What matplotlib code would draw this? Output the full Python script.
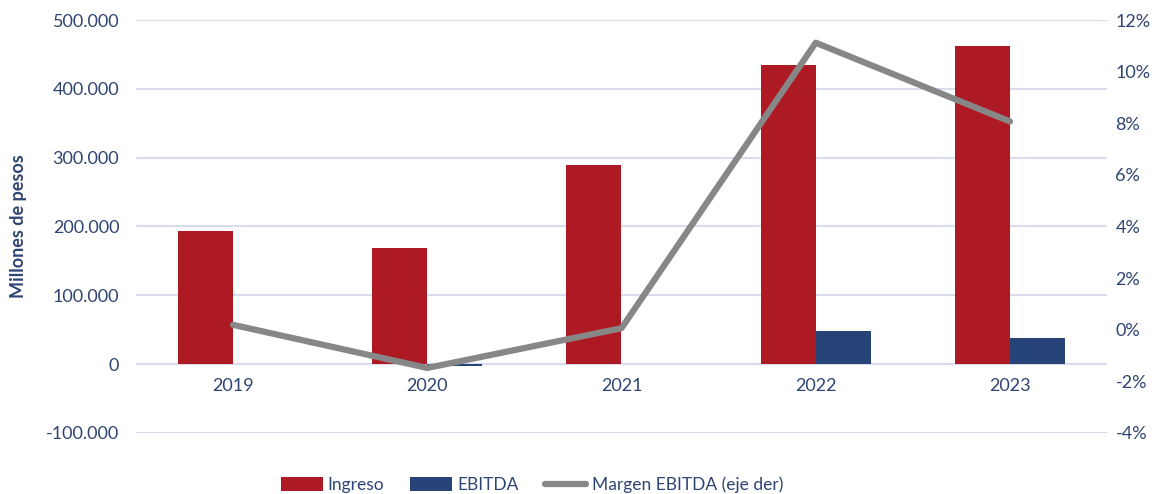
import matplotlib.pyplot as plt
import numpy as np
from matplotlib.ticker import FuncFormatter

# Data
years = ["2019", "2020", "2021", "2022", "2023"]
ingreso = [193000, 168500, 289000, 434500, 462000]
ebitda = [400, -2500, 100, 48000, 37500]
margen = [0.19, -1.48, 0.06, 11.12, 8.07]  # percent, right axis

RED = "#AD1A24"
BLUE = "#264478"
GRAY = "#878787"
TEXT = "#2E4472"
GRID = "#D9DCEC"

plt.rcParams["font.family"] = ["Lato", "DejaVu Sans"]

fig = plt.figure(figsize=(11.69, 4.94), dpi=100)
ax = fig.add_axes([0.1163, 0.1235, 0.8307, 0.836])
ax2 = ax.twinx()

x = np.arange(len(years))
w = 0.284  # bar width
ax.bar(x - w / 2, ingreso, w, color=RED, label="Ingreso", zorder=2)
ax.bar(x + w / 2, ebitda, w, color=BLUE, label="EBITDA", zorder=2)
line, = ax2.plot(x, margen, color=GRAY, lw=4.5, solid_capstyle="round",
                 label="Margen EBITDA (eje der)")

ax.set_xlim(-0.5, len(years) - 0.5)
ax.set_ylim(-100000, 500000)
ax.set_yticks(np.arange(-100000, 500001, 100000))
ax.yaxis.set_major_formatter(FuncFormatter(lambda v, p: f"{v:,.0f}".replace(",", ".")))
ax.grid(axis="y", color=GRID, lw=1.5, zorder=0)
ax.set_axisbelow(True)

ax2.set_ylim(-4, 12)
ax2.set_yticks(np.arange(-4, 13, 2))
ax2.yaxis.set_major_formatter(FuncFormatter(lambda v, p: f"{v:.0f}%"))

for a in (ax, ax2):
    for s in ("top", "left", "right", "bottom"):
        a.spines[s].set_visible(False)
    a.tick_params(axis="y", length=0, labelsize=13, labelcolor=TEXT, pad=12)

# zero axis line with category labels just below it
ax.axhline(0, color=GRID, lw=1.5, zorder=1)
ax.set_xticks(x)
ax.set_xticklabels(years)
ax.tick_params(axis="x", length=0, labelsize=13, labelcolor=TEXT, pad=0)
for lbl in ax.get_xticklabels():
    lbl.set_y(0.134)
ax2.tick_params(axis="y", pad=6)
for lbl in ax2.get_yticklabels():
    lbl.set_horizontalalignment("left")

ax.set_ylabel("Millones de pesos", fontsize=13, fontweight="bold", color=TEXT, labelpad=14)

handles = ax.get_legend_handles_labels()[0] + [line]
labels = ["Ingreso", "EBITDA", "Margen EBITDA (eje der)"]
fig.legend(handles, labels, loc="lower center", bbox_to_anchor=(0.455, -0.03), ncol=3,
           frameon=False, fontsize=12.5, labelcolor=TEXT, handlelength=2.4,
           handleheight=0.9, columnspacing=1.5, handletextpad=0.3)

fig.savefig("out.png", dpi=100)
